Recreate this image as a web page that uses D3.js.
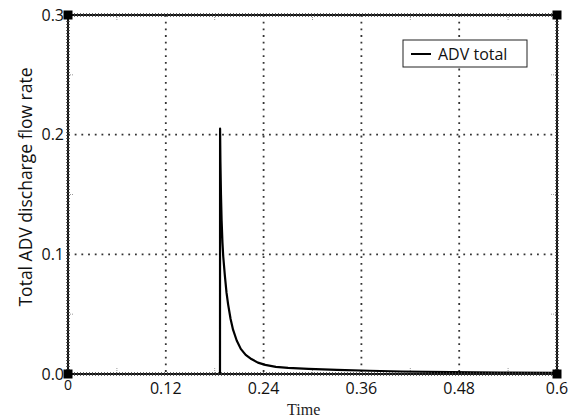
<!DOCTYPE html>
<html>
<head>
<meta charset="utf-8">
<script src="https://cdn.jsdelivr.net/npm/d3@7"></script>
<style>
  body { margin: 0; background: #fff; }
  svg { display: block; }
</style>
</head>
<body>
<svg width="571" height="419"></svg>
<script>
// data
const timeValues = [0, 0.1865, 0.1866, 0.1870, 0.1877, 0.1885, 0.1895, 0.1905, 0.1925, 0.1945, 0.1965, 0.1995, 0.2025, 0.2070, 0.2120, 0.2180, 0.2250, 0.2330, 0.2420, 0.2550, 0.2700, 0.2950, 0.3300, 0.3700, 0.4100, 0.4700, 0.5300, 0.6];
const flowValues = [0, 0, 0.205, 0.178, 0.150, 0.128, 0.110, 0.098, 0.082, 0.068, 0.058, 0.046, 0.037, 0.028, 0.021, 0.016, 0.0125, 0.0095, 0.0076, 0.0060, 0.0051, 0.0043, 0.0034, 0.0027, 0.0021, 0.0015, 0.0012, 0.0010];
const xTicks = [0, 0.12, 0.24, 0.36, 0.48, 0.6];
const yTicks = [0, 0.1, 0.2, 0.3];
const seriesName = "ADV total";

const svg = d3.select("svg");
const margin = { top: 15, right: 14, bottom: 45, left: 68 };
const width = 571 - margin.left - margin.right;
const height = 419 - margin.top - margin.bottom;

const g = svg.append("g").attr("transform", `translate(${margin.left},${margin.top})`);

const x = d3.scaleLinear().domain([0, 0.6]).range([0, width]);
const y = d3.scaleLinear().domain([0, 0.3]).range([height, 0]);

const sans = "Open Sans, Noto Sans, sans-serif";

// dotted grid
g.selectAll(".vgrid")
  .data(xTicks.slice(1, -1))
  .enter().append("line")
  .attr("x1", d => x(d)).attr("x2", d => x(d))
  .attr("y1", 0).attr("y2", height)
  .attr("stroke", "#333").attr("stroke-width", 1.8)
  .attr("stroke-dasharray", "1.8,4.9");

g.selectAll(".hgrid")
  .data(yTicks.slice(1, -1))
  .enter().append("line")
  .attr("y1", d => y(d)).attr("y2", d => y(d))
  .attr("x1", 0).attr("x2", width)
  .attr("stroke", "#333").attr("stroke-width", 1.8)
  .attr("stroke-dasharray", "1.8,4.9");

// faint minor ticks at midpoints
const xMinor = xTicks.slice(0, -1).map((d, i) => (d + xTicks[i + 1]) / 2);
const yMinor = yTicks.slice(0, -1).map((d, i) => (d + yTicks[i + 1]) / 2);
xMinor.forEach(d => {
  [[height - 6, height], [0, 6]].forEach(([a, b]) => {
    g.append("line").attr("x1", x(d)).attr("x2", x(d)).attr("y1", a).attr("y2", b)
      .attr("stroke", "#999").attr("stroke-width", 1).attr("stroke-dasharray", "1,1");
  });
});
yMinor.forEach(d => {
  [[0, 6], [width - 6, width]].forEach(([a, b]) => {
    g.append("line").attr("y1", y(d)).attr("y2", y(d)).attr("x1", a).attr("x2", b)
      .attr("stroke", "#999").attr("stroke-width", 1).attr("stroke-dasharray", "1,1");
  });
});

// curve
const line = d3.line()
  .x((d, i) => x(timeValues[i]))
  .y(d => y(d));

g.append("path")
  .datum(flowValues)
  .attr("fill", "none")
  .attr("stroke", "#000")
  .attr("stroke-width", 2.2)
  .attr("stroke-linejoin", "round")
  .attr("d", line);

// frame with textured border
const frame = [[0, 0, width, 0], [0, height, width, height], [0, 0, 0, height], [width, 0, width, height]];
frame.forEach(([x1, y1, x2, y2]) => {
  g.append("line").attr("x1", x1).attr("y1", y1).attr("x2", x2).attr("y2", y2)
    .attr("stroke", "#111").attr("stroke-width", 2);
  g.append("line").attr("x1", x1).attr("y1", y1).attr("x2", x2).attr("y2", y2)
    .attr("stroke", "#444").attr("stroke-width", 4).attr("stroke-dasharray", "1,2").attr("opacity", 0.8);
});

// corner squares
[[0, 0], [width, 0], [0, height], [width, height]].forEach(([cx, cy]) => {
  g.append("rect").attr("x", cx - 4.5).attr("y", cy - 4.5).attr("width", 9).attr("height", 9).attr("fill", "#000");
});

// tick labels
g.selectAll(".ylab")
  .data(yTicks)
  .enter().append("text")
  .attr("x", -4).attr("y", d => y(d))
  .attr("dy", "0.35em")
  .attr("text-anchor", "end")
  .attr("font-family", sans)
  .attr("font-size", 16)
  .attr("fill", "#111")
  .text(d => d.toFixed(1));

g.selectAll(".xlab")
  .data(xTicks)
  .enter().append("text")
  .attr("x", d => x(d))
  .attr("y", d => d === 0 ? height + 16 : height + 20)
  .attr("text-anchor", "middle")
  .attr("font-family", sans)
  .attr("font-size", d => d === 0 ? 14 : 16)
  .attr("fill", "#111")
  .text(d => d === 0 ? "0" : String(d));

// axis titles
svg.append("text")
  .attr("x", margin.left + width * 0.482)
  .attr("y", 415)
  .attr("text-anchor", "middle")
  .attr("font-family", "Liberation Serif, DejaVu Serif, serif")
  .attr("font-size", 16)
  .attr("fill", "#222")
  .text("Time");

svg.append("text")
  .attr("transform", "translate(32,187) rotate(-90)")
  .attr("text-anchor", "middle")
  .attr("font-family", sans)
  .attr("font-size", 17.5)
  .attr("fill", "#111")
  .text("Total ADV discharge flow rate");

// legend
const legend = svg.append("g").attr("transform", "translate(403,40)");
legend.append("rect").attr("width", 124).attr("height", 27)
  .attr("fill", "#fff").attr("stroke", "#222").attr("stroke-width", 1);
legend.append("line").attr("x1", 8).attr("x2", 28).attr("y1", 14).attr("y2", 14)
  .attr("stroke", "#000").attr("stroke-width", 2);
legend.append("text").attr("x", 35).attr("y", 14).attr("dy", "0.35em")
  .attr("font-family", sans)
  .attr("font-size", 16)
  .attr("fill", "#111")
  .text(seriesName);
</script>
</body>
</html>
